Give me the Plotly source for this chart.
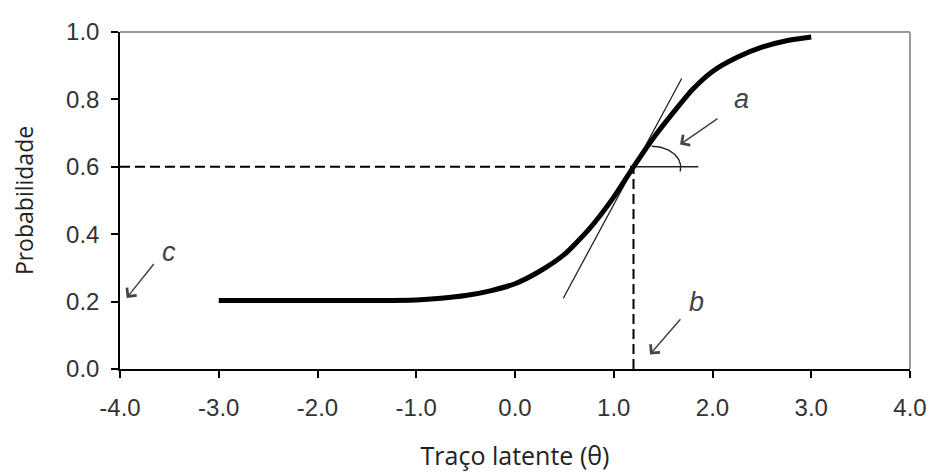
import plotly.graph_objects as go
import math

# Item characteristic curve
theta = [-3.0, -2.5, -2.0, -1.5, -1.0, -0.75, -0.5, -0.25, 0.0, 0.25, 0.5, 0.75,
         1.0, 1.2, 1.4, 1.6, 1.8, 2.0, 2.25, 2.5, 2.75, 3.0]
prob = [0.203, 0.203, 0.203, 0.203, 0.205, 0.21, 0.218, 0.232, 0.253, 0.29, 0.34, 0.415,
        0.51, 0.6, 0.685, 0.76, 0.83, 0.883, 0.925, 0.955, 0.974, 0.985]

# reference lines
b_param = 1.2
p_at_b = 0.6
tangent_x = [0.489, 1.688]
tangent_y = [0.21, 0.862]
horiz_x = [1.2, 1.856]

# arc marking the slope angle (ellipse centre, radii, angles in degrees)
arc_center = (1.384, 0.599)
arc_radii = (0.294, 0.062)
arc_angles = (90, -12)

# annotation labels and arrows: label pos, arrow head, arrow tail
labels = ["a", "b", "c"]
label_x = [2.289, 1.833, -3.504]
label_y = [0.801, 0.200, 0.347]
head_x = [1.671, 1.367, -3.932]
head_y = [0.666, 0.043, 0.211]
tail_x = [2.066, 1.688, -3.646]
tail_y = [0.746, 0.152, 0.316]

x_ticks = [-4.0, -3.0, -2.0, -1.0, 0.0, 1.0, 2.0, 3.0, 4.0]
y_ticks = [0.0, 0.2, 0.4, 0.6, 0.8, 1.0]

fig = go.Figure()

# dashed guides
fig.add_trace(go.Scatter(x=[-4.0, b_param], y=[p_at_b, p_at_b], mode="lines",
                         line=dict(color="black", width=2, dash="10px,5px"),
                         hoverinfo="skip", showlegend=False))
fig.add_trace(go.Scatter(x=[b_param, b_param], y=[0.0, p_at_b], mode="lines",
                         line=dict(color="black", width=2, dash="10px,5px"),
                         hoverinfo="skip", showlegend=False))
# tangent and horizontal
fig.add_trace(go.Scatter(x=tangent_x, y=tangent_y, mode="lines",
                         line=dict(color="#222", width=1.3),
                         hoverinfo="skip", showlegend=False))
fig.add_trace(go.Scatter(x=horiz_x, y=[p_at_b, p_at_b], mode="lines",
                         line=dict(color="#222", width=1.5),
                         hoverinfo="skip", showlegend=False))
# arc
n = 40
ax_ = []
ay_ = []
for i in range(n + 1):
    t = math.radians(arc_angles[0] + (arc_angles[1] - arc_angles[0]) * i / n)
    ax_.append(arc_center[0] + arc_radii[0] * math.cos(t))
    ay_.append(arc_center[1] + arc_radii[1] * math.sin(t))
fig.add_trace(go.Scatter(x=ax_, y=ay_, mode="lines",
                         line=dict(color="#222", width=1.4),
                         hoverinfo="skip", showlegend=False))
# main curve
fig.add_trace(go.Scatter(x=theta, y=prob, mode="lines",
                         line=dict(color="black", width=5, shape="spline", smoothing=0.6),
                         showlegend=False))

for lab, lx, ly, hx, hy, tx, ty in zip(labels, label_x, label_y, head_x, head_y, tail_x, tail_y):
    fig.add_annotation(x=hx, y=hy, ax=tx, ay=ty, axref="x", ayref="y", xref="x", yref="y",
                       text="", showarrow=True, arrowhead=4, arrowsize=1.6,
                       arrowwidth=1.5, arrowcolor="#444")
    fig.add_annotation(x=lx, y=ly, xref="x", yref="y", text="<i>%s</i>" % lab,
                       showarrow=False,
                       font=dict(family="Liberation Sans, Arial", size=27, color="#444"))

fig.update_layout(
    width=926, height=465,
    margin=dict(l=112, r=24, t=24, b=104),
    paper_bgcolor="white", plot_bgcolor="white",
    xaxis=dict(range=[-4.0, 4.0], tickvals=x_ticks, ticktext=["%.1f" % v for v in x_ticks],
               automargin=False,
               showgrid=False, zeroline=False, showline=True, linecolor="black", linewidth=1.5,
               mirror=False, ticks="outside", ticklen=7, tickwidth=1.5, tickcolor="black",
               ticklabelstandoff=9,
               tickfont=dict(family="Liberation Sans", size=24, color="#333"),
               title=dict(text="Traço latente (θ)", standoff=28,
                          font=dict(family="Open Sans", size=25, color="#222"))),
    yaxis=dict(range=[0.0, 1.0], tickvals=y_ticks, ticktext=["%.1f" % v for v in y_ticks],
               automargin=False,
               showgrid=False, zeroline=False, showline=True, linecolor="black", linewidth=1.5,
               ticks="outside", ticklen=7, tickwidth=1.5, tickcolor="black",
               ticklabelstandoff=7,
               tickfont=dict(family="Liberation Sans", size=24, color="#333"),
               title=dict(text="Probabilidade", standoff=30,
                          font=dict(family="Open Sans", size=23, color="#222"))),
)
# gray frame on top/right
fig.add_shape(type="line", xref="paper", yref="paper", x0=0, x1=1, y0=1, y1=1,
              line=dict(color="#999", width=2))
fig.add_shape(type="line", xref="paper", yref="paper", x0=1, x1=1, y0=0, y1=1,
              line=dict(color="#999", width=2))

fig.write_html("out.html")
